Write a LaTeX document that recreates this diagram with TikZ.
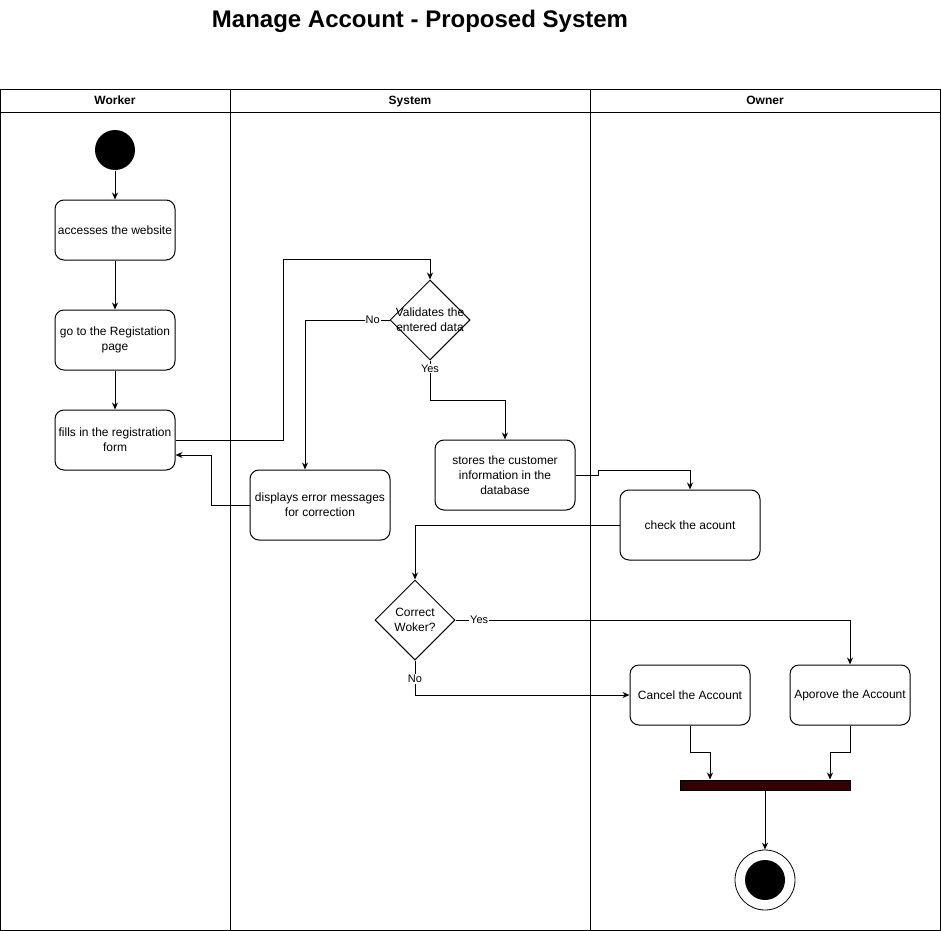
\documentclass[tikz,border=0pt]{standalone}
\usepackage{fontspec}
\setmainfont{Liberation Sans}
\usetikzlibrary{arrows.meta, shapes.geometric, calc}
\definecolor{cbar}{HTML}{330000}
\tikzset{
  every picture/.style={line width=1pt, x=1pt, y=-1pt},
  action/.style={draw, rounded corners=9pt, align=center, minimum width=120pt, minimum height=60pt, inner sep=2pt, font=\fontsize{12}{15}\selectfont},
  decision/.style={draw, diamond, aspect=1, minimum width=80pt, minimum height=80pt, inner sep=0pt},
  dtext/.style={align=center, inner sep=0pt, font=\fontsize{12}{15}\selectfont},
  flow/.style={-{Stealth[length=7pt, width=6pt]}, draw},
  lbl/.style={fill=white, inner sep=1pt, font=\fontsize{11}{13}\selectfont},
  lane/.style={font=\fontsize{12}{14}\selectfont\bfseries, text height=8.6pt, text depth=2.5pt, inner sep=0pt},
  title/.style={font=\fontsize{24}{28}\selectfont\bfseries},
  initial/.style={circle, fill=black, minimum size=40pt, inner sep=0pt},
  final/.style={circle, draw, line width=0.8pt, minimum size=60pt, inner sep=0pt,
    path picture={\fill (path picture bounding box.center) circle (20pt);}},
  joinbar/.style={draw, fill=cbar, minimum width=170pt, minimum height=10pt, inner sep=0pt},
}

\begin{document}
\begin{tikzpicture}
  \useasboundingbox (0,0) rectangle (942,931);
  \node[title] (ttl) at (420,21) {Manage Account - Proposed System};

  % swimlanes
  \draw (0,90) rectangle (940.5,930.5);
  \draw (0,113) -- (940.5,113);
  \draw (230,90) -- (230,930.5);
  \draw (590,90) -- (590,930.5);
  \node[lane] (lworker) at (115,101) {Worker};
  \node[lane] (lsystem) at (410,101) {System};
  \node[lane] (lowner) at (765,101) {Owner};

  % worker
  \node[initial] (start) at (115,150) {};
  \node[action] (a1) at (115,230) {accesses the website};
  \node[action] (a2) at (115,340) {go to the Registation\\page};
  \node[action] (a3) at (115,440) {fills in the registration\\form};

  % system
  \node[decision] (d1) at (430,320) {};
  \node[dtext] (d1t) at (d1) {Validates the\\entered data};
  \node[action, minimum width=140pt, minimum height=70pt] (a4) at (505,475) {stores the customer\\information in the\\database};
  \node[action, minimum width=140pt, minimum height=70pt] (a5) at (320,505) {displays error messages\\for correction};
  \node[decision] (d2) at (415,620) {};
  \node[dtext] (d2t) at (d2) {Correct\\Woker?};

  % owner
  \node[action, minimum width=140pt, minimum height=70pt] (a6) at (690,525) {check the acount};
  \node[action] (a7) at (690,695) {Cancel the Account};
  \node[action] (a8) at (850,695) {Aporove the Account};
  \node[joinbar] (bar) at (765,785) {};
  \node[final] (end) at (765,880) {};

  % flows
  \draw[flow] (start) -- (a1);
  \draw[flow] (a1) -- (a2);
  \draw[flow] (a2) -- (a3);
  \draw[flow] (a3.east) -- ++(108,0) |- ([yshift=20pt]d1.north) -- (d1.north);
  \draw[flow] (d1.west) -| node[lbl, pos=0.1] {No} ([xshift=-15pt]a5.north);
  \draw[flow] (a5.west) -- ++(-38,0) |- ([yshift=-15pt]a3.east);
  \draw[flow] (d1.south) -- node[lbl, pos=0.2] {Yes} ++(0,40) -| (a4.north);
  \draw[flow] (a4.east) -- ++(23,0) -- ++(0,-5) -| (a6.north);
  \draw[flow] (a6.west) -| (d2.north);
  \draw[flow] (d2.east) -| node[lbl, pos=0.03] {Yes} (a8.north);
  \draw[flow] (d2.south) |- node[lbl, pos=0.27] {No} (a7.west);
  \draw[flow] (a7.south) -- ++(0,27) -| ([xshift=-55pt]bar.north);
  \draw[flow] (a8.south) -- ++(0,27) -| ([xshift=65pt]bar.north);
  \draw[flow] (bar) -- (end);
\end{tikzpicture}
\end{document}
